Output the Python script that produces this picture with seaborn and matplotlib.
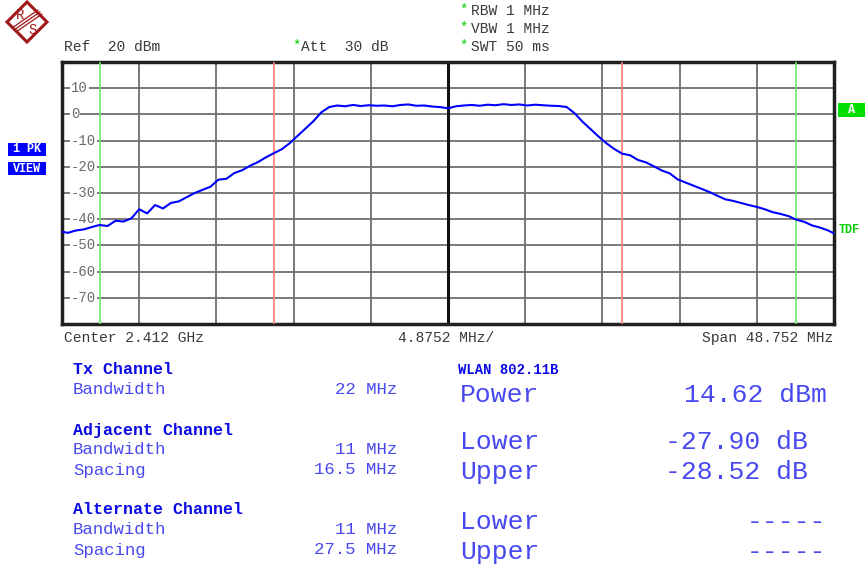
import numpy as np
import seaborn as sns
import matplotlib.pyplot as plt
from matplotlib.transforms import Affine2D, blended_transform_factory
from matplotlib.patches import Rectangle, Polygon

# Frequenz-Offset zur Mitte (MHz) und Pegel (dBm)
freq_mhz = [
    -24.376, -24.0, -23.5, -23.0, -22.5, -22.0, -21.5, -21.0, -20.5, -20.0,
    -19.5, -19.0, -18.5, -18.0, -17.5, -17.0, -16.5, -16.0, -15.5, -15.0,
    -14.5, -14.0, -13.5, -13.0, -12.5, -12.0, -11.5, -11.0, -10.5, -10.0,
    -9.5, -9.0, -8.5, -8.0, -7.5, -7.0, -6.5, -6.0, -5.5, -5.0,
    -4.5, -4.0, -3.5, -3.0, -2.5, -2.0, -1.5, -1.0, -0.5, 0.0,
    0.5, 1.0, 1.5, 2.0, 2.5, 3.0, 3.5, 4.0, 4.5, 5.0,
    5.5, 6.0, 6.5, 7.0, 7.5, 8.0, 8.5, 9.0, 9.5, 10.0,
    10.5, 11.0, 11.5, 12.0, 12.5, 13.0, 13.5, 14.0, 14.5, 15.0,
    15.5, 16.0, 16.5, 17.0, 17.5, 18.0, 18.5, 19.0, 19.5, 20.0,
    20.5, 21.0, 21.5, 22.0, 22.5, 23.0, 23.5, 24.0, 24.376,
]
level_dbm = [
    -44.8, -45.2, -44.3, -43.9, -43.0, -42.2, -42.6, -40.6, -40.9, -39.7,
    -36.2, -37.8, -34.6, -35.9, -33.8, -33.2, -31.6, -30.0, -28.8, -27.6,
    -24.9, -24.6, -22.4, -21.3, -19.6, -18.2, -16.4, -14.8, -13.3, -11.0,
    -8.2, -5.4, -2.6, 0.8, 2.8, 3.4, 3.1, 3.6, 3.2, 3.5,
    3.3, 3.4, 3.1, 3.6, 3.8, 3.3, 3.4, 3.0, 2.8, 2.3,
    3.1, 3.4, 3.6, 3.3, 3.7, 3.5, 3.9, 3.6, 3.8, 3.4,
    3.7, 3.5, 3.3, 3.2, 2.8, 0.4, -2.8, -5.6, -8.4, -11.0,
    -13.2, -15.0, -15.6, -17.4, -18.3, -19.8, -21.4, -22.5, -24.8, -26.0,
    -27.2, -28.4, -29.6, -31.0, -32.4, -33.0, -33.8, -34.6, -35.3, -36.2,
    -37.3, -38.0, -38.8, -40.2, -41.0, -42.4, -43.2, -44.3, -45.4,
]

span_mhz = 48.752
y_ticks = [10, 0, -10, -20, -30, -40, -50, -60, -70]
red_lines = [-11.0, 11.0]     # Tx-Kanalgrenzen
green_lines = [-22.0, 22.0]   # Alternate-Kanal

header_lines = ["RBW 1 MHz", "VBW 1 MHz", "SWT 50 ms"]
footer = ["Center 2.412 GHz", "4.8752 MHz/", "Span 48.752 MHz"]

channel_titles = ["Tx Channel", "Adjacent Channel", "Alternate Channel"]
channel_rows = [
    [("Bandwidth", "22 MHz")],
    [("Bandwidth", "11 MHz"), ("Spacing", "16.5 MHz")],
    [("Bandwidth", "11 MHz"), ("Spacing", "27.5 MHz")],
]
result_names = ["Power", "Lower", "Upper", "Lower", "Upper"]
result_values = ["14.62 dBm", "-27.90 dB", "-28.52 dB", "-----", "-----"]

sns.set_style("white")
plt.rcParams['font.family'] = ['Liberation Mono', 'DejaVu Sans Mono']

W, H = 866, 567
fig = plt.figure(figsize=(W / 100, H / 100), dpi=100)
# Pixel-Koordinaten wie im Bild (y nach unten)
px = Affine2D().scale(1 / W, -1 / H).translate(0, 1) + fig.transFigure

ax = fig.add_axes([62 / W, 1 - 324 / H, 772 / W, 262 / H])

sns.lineplot(x=freq_mhz, y=level_dbm, ax=ax, color='#0000ff',
             linewidth=1.5, zorder=5)

ax.set_xlim(-span_mhz / 2, span_mhz / 2)
ax.set_ylim(-80, 20)
ax.set_xticks(np.linspace(-span_mhz / 2, span_mhz / 2, 11))
ax.set_yticks(y_ticks)
ax.tick_params(length=0, labelbottom=False, labelleft=False)
ax.grid(True, color='#6e6e6e', linewidth=1.3)
ax.set_xlabel("")
ax.set_ylabel("")
ax.axvline(0, color='#111111', linewidth=2.2, zorder=2)
for f in red_lines:
    ax.axvline(f, color='#ff7b7b', linewidth=1.2, zorder=3)
for f in green_lines:
    ax.axvline(f, color='#6be86b', linewidth=1.2, zorder=3)
for s in ax.spines.values():
    s.set_color('#202020')
    s.set_linewidth(2.5)

# Pegelbeschriftung innerhalb des Diagramms
tr = blended_transform_factory(ax.transAxes, ax.transData)
for t in y_ticks:
    ax.text(0.0117, t, str(t), transform=tr, ha='left', va='center',
            fontsize=10, color='#6a6a6a', zorder=4,
            bbox=dict(facecolor='white', edgecolor='none', pad=0.6))

# Kopfzeile
hdr = dict(transform=px, fontsize=10.5, color='#3a3a3a', va='center')
fig.text(64, 47, "Ref  20 dBm", ha='left', **hdr)
fig.text(292, 46, "*", ha='left', transform=px, fontsize=10,
         color='#00d000', va='center')
fig.text(301, 47, "Att  30 dB", ha='left', **hdr)
for i, line in enumerate(header_lines):
    y = 11 + 18 * i
    fig.text(459, y - 1, "*", ha='left', transform=px, fontsize=10,
             color='#00d000', va='center')
    fig.text(471, y, line, ha='left', **hdr)

# R&S Logo
fig.add_artist(Polygon([(27, 2), (47, 22), (27, 42), (7, 22)], closed=True,
                       fill=False, edgecolor='#a01818', linewidth=2.2,
                       transform=px))
for d in (-2, 0, 2):
    fig.add_artist(plt.Line2D([14 + d, 40 + d], [30 + d, 12 + d],
                              color='#a01818', linewidth=0.9, transform=px))
fig.text(20, 15, "R", transform=px, fontsize=10, color='#a01818',
         ha='center', va='center')
fig.text(33, 30, "S", transform=px, fontsize=10, color='#a01818',
         ha='center', va='center')

# Trace-Kennung links
for (y0, txt) in [(143, "1 PK"), (162, "VIEW")]:
    fig.add_artist(Rectangle((8, y0), 38, 13, transform=px,
                             facecolor='#0000ff', edgecolor='none'))
    fig.text(27, y0 + 6.5, txt, transform=px, fontsize=8.5, color='white',
             weight='bold', ha='center', va='center')

# Kennungen rechts
fig.add_artist(Rectangle((838, 103), 27, 14, transform=px,
                         facecolor='#00e000', edgecolor='none'))
fig.text(851, 110, "A", transform=px, fontsize=8.5, color='white',
         weight='bold', ha='center', va='center')
fig.text(839, 230, "TDF", transform=px, fontsize=8.5, color='#00d000',
         weight='bold', ha='left', va='center')

# Fußzeile
fig.text(64, 338, footer[0], ha='left', **hdr)
fig.text(398, 338, footer[1], ha='left', **hdr)
fig.text(833, 338, footer[2], ha='right', **hdr)

# Kanaltabelle
title_c = '#0a0ae6'
row_c = '#4848f0'
y = 370
for title, rows in zip(channel_titles, channel_rows):
    fig.text(73, y, title, transform=px, fontsize=12, weight='bold',
             color=title_c, ha='left', va='center')
    for name, val in rows:
        y += 20
        fig.text(73, y, name, transform=px, fontsize=12.5, color=row_c,
                 ha='left', va='center')
        fig.text(397, y, val, transform=px, fontsize=12.5, color=row_c,
                 ha='right', va='center')
    y += 40

# Messergebnisse
fig.text(458, 370, "WLAN 802.11B", transform=px, fontsize=10,
         weight='bold', color=title_c, ha='left', va='center')
res_y = [395, 442, 472, 522, 552]
res_x = [827, 808, 808, 826, 826]
for name, val, yy, xx in zip(result_names, result_values, res_y, res_x):
    fig.text(460, yy, name, transform=px, fontsize=19, color=row_c,
             ha='left', va='center')
    fig.text(xx, yy, val, transform=px, fontsize=19, color=row_c,
             ha='right', va='center')

plt.savefig('out.png', dpi=100)
